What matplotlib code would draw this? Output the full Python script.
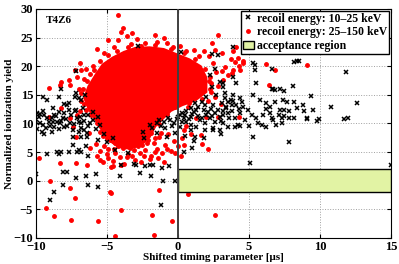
import matplotlib
matplotlib.use('Agg')
import matplotlib.pyplot as plt
from matplotlib.lines import Line2D
from matplotlib.patches import Patch, Rectangle

plt.rcParams['font.family'] = ['Liberation Serif', 'DejaVu Serif']
plt.rcParams['font.weight'] = 'bold'
plt.rcParams['axes.labelweight'] = 'bold'

# saturated core of the 25-150 keV cloud (outline, data coords)
core_x = [-6.6, -6.3, -5.8, -5.3, -4.6, -3.8, -3.0, -2.0, -1.0, 0.0, 0.8, 1.6, 2.0, 2.0, 1.2, 0.3,
          -0.5, -1.0, -1.6, -2.0, -2.6, -3.4, -4.2, -4.8, -5.3, -5.8, -6.3]
core_y = [14.5, 16.5, 18.5, 20.3, 21.5, 22.5, 23.2, 23.3, 23.0, 22.0, 21.2, 20.0, 18.0, 15.5, 14.0, 13.2,
          12.2, 11.0, 9.5, 7.6, 6.2, 5.6, 5.9, 7.0, 8.6, 10.6, 12.6]

# recoil energy 25-150 keV, individual events
red_pts = [
    (-4.2, 29.0), (-4.0, 26.0), (-3.85, 26.6), (-3.6, 25.2), (-3.2, 25.8), (-4.9, 24.5), (-4.2, 24.6),
    (-2.9, 24.7), (-1.65, 25.5), (-1.5, 24.3), (-1.0, 24.9), (-0.35, 23.4), (0.15, 23.5), (0.6, 22.6),
    (1.1, 22.9), (1.45, 21.7), (-5.7, 23.0), (-2.3, 24.1), (-3.3, 23.9), (-0.8, 24.0), (-5.2, 22.3),
    (-4.5, 23.4),
    (-9.05, 16.2), (-8.3, 16.7), (-8.2, 12.7), (-8.2, 17.3), (-7.7, 17.6), (-7.6, 16.7), (-7.1, 18.2),
    (-6.9, 20.5), (-7.25, 19.4), (-6.8, 19.4), (-6.45, 19.6), (-6.2, 18.6), (-6.6, 17.8), (-6.0, 20.1),
    (-7.0, 16.0), (-6.8, 15.3), (-7.1, 11.5), (-9.05, 11.1), (-6.25, 8.3), (-7.2, 7.7), (-7.4, 9.3),
    (-9.8, 4.0), (-6.6, 13.4), (-6.9, 12.2), (-7.6, 11.0),
    (2.8, 25.5), (1.8, 22.7), (2.4, 24.1), (3.1, 22.3), (2.2, 21.8), (4.1, 23.4), (4.2, 21.4),
    (3.7, 21.2), (4.55, 21.0), (4.3, 20.1), (3.9, 19.4), (3.5, 18.5), (3.1, 19.1), (3.2, 17.6),
    (2.8, 16.6), (2.25, 16.0), (2.25, 18.2), (2.6, 14.7), (3.0, 13.4), (2.8, 11.2), (2.0, 11.2),
    (4.3, 11.2), (3.9, 22.6), (3.3, 19.9), (4.0, 20.8), (4.4, 19.4), (4.6, 20.6), (3.8, 18.8),
    (6.2, 20.4), (6.8, 19.4), (6.4, 16.7), (9.1, 20.3), (2.5, 20.5), (2.7, 19.0), (2.3, 17.0),
    (2.6, 22.9), (2.1, 14.0), (0.7, 12.9), (1.3, 10.9), (1.65, 8.0), (0.4, 8.9), (1.7, 6.4),
    (2.1, 5.5), (2.6, -5.9),
    (-9.0, -0.1), (-9.3, -4.8), (-8.75, -6.2), (-8.3, 3.1), (-7.6, -1.3), (-7.25, -3.0),
    (-7.5, -6.8), (-5.65, -7.1), (-4.8, -2.0), (-4.7, -2.1), (-4.0, -5.1), (-4.4, -9.6), (-7.2, 3.1),
    (-6.4, 2.8), (-4.7, 2.4), (-1.8, -5.9), (-1.7, -9.4), (-1.3, -1.6), (-0.4, -7.0), (0.7, -2.3),
    (1.3, 1.0), (-5.5, 3.6), (-5.3, 3.3), (-4.0, 2.7), (-4.6, 2.6),
    (-5.8, 6.5), (-5.5, 5.2), (-5.2, 6.0), (-5.0, 4.6), (-4.8, 7.2), (-4.5, 5.5), (-4.3, 6.6),
    (-4.1, 4.2), (-3.9, 5.8), (-3.7, 7.6), (-3.5, 4.6), (-3.3, 6.4), (-3.1, 5.3), (-2.9, 7.0),
    (-2.7, 4.9), (-2.5, 6.3), (-2.3, 5.4), (-2.1, 7.2), (-1.9, 4.4), (-1.7, 6.6), (-1.5, 5.6),
    (-1.3, 7.6), (-1.1, 4.8), (-0.9, 6.3), (-0.7, 8.2), (-0.5, 5.2), (-0.3, 7.0), (0.0, 6.0),
    (0.3, 7.5), (0.6, 9.5), (0.9, 8.2), (-6.2, 5.7), (-4.6, 3.5), (-3.0, 3.6), (-2.0, 3.8),
    (-1.0, 3.2), (0.2, 4.3), (-3.8, 3.0), (-4.2, 6.1), (-3.4, 5.8), (-2.8, 6.1), (-2.2, 6.6),
    (-1.6, 7.4), (-1.2, 8.4), (-4.6, 6.9), (-3.8, 6.6),
    (-5.3, 7.8), (-4.9, 5.6), (-4.4, 4.9), (-3.6, 4.1), (-3.2, 4.4), (-2.4, 4.3), (-1.6, 5.0),
    (-0.8, 5.5), (-0.2, 4.8), (0.4, 6.2), (-5.7, 4.4), (-4.9, 3.9), (-2.6, 3.2), (-1.4, 3.9),
    (-6.8, 14.0), (-6.7, 16.0), (-6.4, 17.4), (-5.9, 19.4), (-5.5, 21.0), (-4.9, 21.9), (-4.3, 22.6),
    (-3.5, 23.4), (-2.6, 23.6), (-1.6, 23.7), (-0.5, 23.0), (0.4, 22.3), (1.2, 21.3), (1.9, 19.6),
    (2.2, 17.5), (2.3, 15.5), (1.7, 14.3), (0.8, 13.6), (-0.2, 12.8), (-6.5, 12.3), (-6.1, 11.5),
    (-5.7, 10.0), (-5.5, 8.6), (-5.0, 7.4), (-4.4, 6.6), (-3.5, 6.5), (-2.6, 7.1), (-1.9, 8.3),
    (-1.3, 9.9), (-0.8, 11.6),
]

# recoil energy 10-25 keV
black_pts = [
    (11.8, 19.0), (9.35, 14.8), (8.9, 12.2), (9.5, 12.4), (9.1, 10.8), (9.8, 10.5), (10.8, 12.8),
    (12.6, 13.6), (11.7, 10.8), (12.0, 11.0), (8.4, 20.9), (8.2, 20.7), (6.6, 19.6), (5.3, 20.5),
    (5.4, 19.4), (5.5, 17.0), (8.1, 16.6), (6.6, 16.1), (6.8, 15.9), (7.2, 16.1), (7.5, 15.6),
    (7.4, 14.1), (7.7, 13.8), (7.5, 12.4), (6.5, 12.9), (6.2, 12.6), (5.8, 14.1), (5.3, 15.0),
    (7.1, 11.5), (7.3, 10.9), (7.8, 10.9), (6.6, 10.9), (6.0, 11.5), (6.9, 9.7), (5.9, 9.7),
    (5.0, 9.6), (4.4, 9.6), (4.0, 9.3), (2.5, 8.9), (3.0, 8.2), (5.3, 7.7), (7.8, 6.8), (5.1, 3.1),
    (15.0, 2.7), (1.8, 7.5), (8.5, 21.0), (5.4, 20.2), (4.1, 17.0), (3.2, 17.0), (3.9, 18.2),
    (3.3, 15.3), (3.9, 15.0), (4.4, 14.4), (3.5, 13.8), (4.1, 13.2), (4.6, 12.9), (3.4, 12.7),
    (3.8, 12.1), (4.4, 11.9), (4.95, 12.4), (5.2, 11.5), (3.2, 11.5), (4.0, 10.9), (4.7, 10.6),
    (5.5, 10.9), (6.5, 11.8), (6.7, 16.0), (6.2, 13.5), (6.8, 13.8), (8.2, 13.8), (8.8, 13.2),
    (7.2, 12.4), (7.5, 11.3), (7.8, 12.1), (8.35, 12.7), (6.7, 10.6), (7.3, 10.0), (8.2, 10.9),
    (9.05, 10.9), (9.9, 10.7), (5.65, 10.0), (3.5, 9.4), (4.2, 9.7), (6.2, 9.4),
    (2.8, 22.0), (2.25, 18.5), (2.6, 19.6), (2.95, 17.3), (2.4, 16.4), (3.2, 16.4), (2.0, 14.7),
    (2.7, 15.0), (3.3, 14.4), (1.7, 13.8), (1.2, 13.5), (0.15, 11.5), (3.7, 14.1), (0.6, 12.1),
    (0.95, 12.7), (1.4, 12.9), (1.9, 13.2), (2.5, 13.2), (3.1, 13.5), (3.4, 12.9), (3.2, 12.1),
    (2.6, 11.8), (2.0, 11.5), (1.4, 11.3), (0.95, 11.1), (0.4, 10.9), (-0.1, 10.7), (-0.55, 10.6),
    (-1.0, 10.3), (-1.5, 10.0), (-2.0, 9.7), (-0.3, 10.0), (0.6, 10.3), (1.55, 10.6), (2.25, 10.9),
    (2.95, 11.2), (1.3, 9.3), (0.95, 8.9), (1.9, 8.9), (2.5, 9.2), (2.95, 8.8), (1.2, 7.7),
    (0.15, 9.4), (-0.9, 9.2), (-2.45, 8.6), (3.2, 10.0), (0.3, 11.9), (1.1, 12.0), (1.8, 12.3),
    (2.3, 12.6), (0.0, 11.2), (-0.7, 11.0), (-1.3, 10.6), (0.2, 22.4), (2.4, 22.1), (3.9, 23.3),
    (-2.8, 23.5),
    (0.3, 10.2), (0.8, 10.8), (1.0, 11.6), (1.7, 11.0), (2.1, 12.0), (2.8, 12.4), (3.5, 11.8),
    (3.8, 13.2), (0.5, 11.4), (1.3, 12.4), (2.4, 11.3), (3.0, 10.5), (3.6, 10.9), (-0.4, 9.6),
    (-1.2, 9.6), (-1.8, 9.2), (0.9, 9.8), (1.9, 10.1), (2.6, 10.3), (4.3, 12.6), (4.5, 13.7),
    (3.9, 14.0),
    (-9.5, 14.7), (-8.4, 14.7), (-8.2, 16.0), (-7.2, 19.2), (-9.5, 12.2), (-8.8, 12.7), (-9.8, 11.1),
    (-8.0, 13.4), (-7.7, 13.5), (-7.2, 15.3), (-6.95, 14.4), (-7.4, 7.7), (-6.8, 7.7), (-6.4, 7.6),
    (-6.6, 8.9), (-9.2, 14.1), (-7.25, 14.7), (-7.8, 13.2), (-6.8, 14.1), (-6.7, 12.7),
    (-6.55, 15.0), (-7.25, 12.1), (-9.7, 11.7), (-9.25, 10.9), (-10.0, 10.3), (-8.75, 11.5),
    (-8.5, 10.3), (-8.1, 10.9), (-7.6, 10.0), (-7.1, 10.9), (-6.8, 10.0), (-6.3, 11.5),
    (-5.95, 10.6), (-5.5, 9.7),
    (-9.9, 9.0), (-9.6, 8.6), (-9.5, 9.8), (-9.0, 9.5), (-8.8, 10.2), (-8.6, 11.3), (-8.4, 9.0),
    (-8.2, 10.5), (-8.0, 11.8), (-7.8, 9.6), (-7.4, 8.8), (-7.2, 12.3), (-7.0, 10.2), (-6.8, 9.2),
    (-6.6, 11.5), (-6.4, 8.3), (-6.2, 10.0), (-6.0, 12.0), (-5.8, 9.0), (-5.6, 7.2),
    (-5.2, 8.2), (-5.0, 6.8), (-4.6, 7.5), (-4.4, 5.4),
    (-2.4, 7.4), (-1.5, 8.3), (-0.8, 7.6), (-0.2, 8.4), (0.5, 7.9),
    (1.1, 6.9), (-5.6, 11.2),
    (-9.7, 10.0), (-9.3, 9.2), (-9.1, 10.3), (-8.9, 11.0), (-8.7, 9.4), (-8.3, 10.0), (-8.0, 9.3),
    (-7.9, 10.8), (-7.5, 11.5), (-7.3, 9.9), (-6.9, 11.2), (-6.6, 10.4), (-9.4, 11.4), (-8.4, 12.0),
    (-7.7, 12.4), (-9.95, 11.8), (-6.3, 9.5), (-7.0, 8.6), (-8.9, 8.5), (-9.4, 8.2),
    (-10.0, 1.2), (-9.25, 4.7), (-8.4, 4.7), (-8.1, 1.5), (-8.1, -0.8), (-8.7, -2.0), (-9.0, -3.3),
    (-7.8, 1.6), (-7.2, 0.5), (-6.5, 0.8), (-6.3, -0.7), (-5.8, 1.1), (-5.6, -1.1), (-7.7, 5.0),
    (-7.4, 6.2), (-7.1, 5.1), (-6.8, 5.1), (-6.3, 4.3), (-6.5, 6.0), (-4.1, 0.8), (-4.0, 2.7),
    (-2.95, 2.7), (-2.3, 2.6), (-2.0, 2.8), (-1.73, 2.7), (-1.1, 2.3), (-1.04, -0.05), (-1.2, -4.2),
    (-0.2, 0.0), (0.4, -0.6), (0.6, 0.5), (1.3, 0.3), (1.0, 5.7), (0.4, 5.1), (-3.5, 4.9),
    (-2.7, 1.3), (-1.9, 0.8), (-3.1, 2.9), (-0.6, 2.6), (-8.5, 5.0), (-8.2, 5.0), (-7.0, 5.3),
]

accept_x = [0, 15]
accept_y = [-2, 2]

fig = plt.figure(figsize=(3.99, 2.64), dpi=100)
ax = fig.add_axes([0.09, 0.0985, 0.89, 0.8675])

ax.fill(core_x, core_y, color='red', lw=1.5, zorder=2)
ax.plot([p[0] for p in red_pts], [p[1] for p in red_pts], '.', color='red', ms=5, zorder=2)
ax.plot([p[0] for p in black_pts], [p[1] for p in black_pts], 'x', color='black',
        ms=3, mew=1.1, zorder=3)

ax.add_patch(Rectangle((accept_x[0], accept_y[0]), accept_x[1] - accept_x[0],
                       accept_y[1] - accept_y[0], facecolor='#e2f3a4', edgecolor='black',
                       lw=1, zorder=4))
ax.axvline(0, color='#404040', lw=1.4, zorder=5)

ax.set_xlim(-10, 15)
ax.set_ylim(-10, 30)
ax.set_xticks([-10, -5, 0, 5, 10, 15])
ax.set_yticks(range(-10, 31, 5))
ax.grid(True, linestyle=':', color='#a0a0a0', lw=0.7)
ax.set_axisbelow(True)
ax.tick_params(direction='in', length=3, top=True, right=True, labelsize=9, pad=2)
for lab in ax.get_xticklabels() + ax.get_yticklabels():
    lab.set_fontweight('bold')

ax.set_xlabel('Shifted timing parameter [\u03bcs]', fontsize=8, labelpad=0)
ax.set_ylabel('Normalized ionization yield', fontsize=8, labelpad=0)
ax.text(-9.3, 28, 'T4Z6', fontsize=8, fontweight='bold', va='center')

handles = [
    Line2D([], [], ls='', marker='x', color='black', ms=3, mew=1.1),
    Line2D([], [], ls='', marker='.', color='red', ms=5),
    Patch(facecolor='#e2f3a4', edgecolor='black'),
]
labels = ['recoil energy: 10\u201325 keV', 'recoil energy: 25\u2013150 keV', 'acceptance region']
leg = ax.legend(handles, labels, loc='upper right', fontsize=8.5, frameon=True, fancybox=False,
                framealpha=1, edgecolor='black', borderaxespad=0.15, borderpad=0.15,
                handlelength=0.9, handletextpad=0.3, labelspacing=0.15)
leg.get_frame().set_linewidth(1)
leg.set_zorder(10)

fig.savefig('out.png', dpi=100)
